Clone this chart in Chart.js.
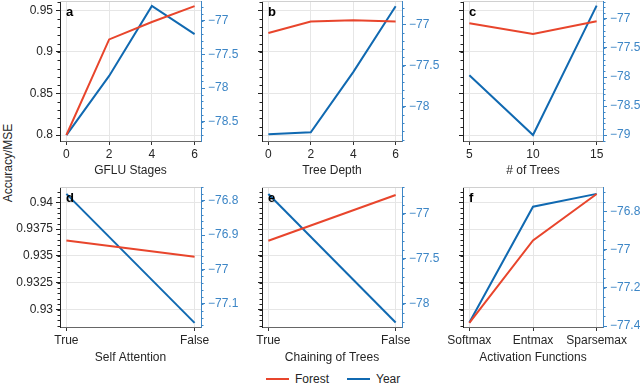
<!DOCTYPE html>
<html>
<head>
<meta charset="utf-8">
<script src="https://cdn.jsdelivr.net/npm/chart.js@4/dist/chart.umd.min.js"></script>
<style>
  body { margin: 0; width: 640px; height: 384px; position: relative; background: #fff; overflow: hidden;
         font-family: "Liberation Sans", Arial, sans-serif; color: #262626; }
  canvas { position: absolute; left: 0; top: 0; }
  #ylab { position: absolute; left: 8px; top: 163px; transform: translate(-50%, -50%) rotate(-90deg);
          font-size: 12px; white-space: nowrap; }
  #legend { position: absolute; left: 266px; top: 372px; display: flex; align-items: center; font-size: 12px; }
  #legend .line { width: 23px; height: 2px; margin-right: 6px; }
  #legend .item { display: flex; align-items: center; margin-right: 18px; }
</style>
</head>
<body>
<div id="ylab">Accuracy/MSE</div>
<div id="legend">
  <div class="item"><div class="line" style="background:#e8452c"></div>Forest</div>
  <div class="item"><div class="line" style="background:#1069b1"></div>Year</div>
</div>
<script>
// --- DATA --- //
const gfluStages = [0, 2, 4, 6];
const gfluForest = [0.800, 0.915, 0.936, 0.955];
const gfluYear = [-78.70, -77.82, -76.78, -77.20];

const treeDepth = [0, 2, 4, 6];
const depthForest = [0.9228, 0.9364, 0.9380, 0.9364];
const depthYear = [-78.335, -78.31, -77.58, -76.78];

const numTrees = [5, 10, 15];
const treesForest = [0.9344, 0.9216, 0.9368];
const treesYear = [-77.97, -79.00, -76.77];

const boolCats = ["True", "False"];
const selfAttForest = [0.93645, 0.93492];
const selfAttYear = [-76.78, -77.155];

const chainForest = [0.93641, 0.94068];
const chainYear = [-76.777, -78.21];

const activationCats = ["Softmax", "Entmax", "Sparsemax"];
const actForest = [0.92875, 0.93645, 0.94078];
const actYear = [-77.382, -76.776, -76.709];

// --- WARNA --- //
const RED = "#e8452c";
const BLUE = "#1069b1";
const BLUE_AXIS = "#3d86c6";
const GRID = "#e6e6e6";

Chart.defaults.font.family = '"Liberation Sans", Arial, sans-serif';
Chart.defaults.font.size = 12;
Chart.defaults.color = "#262626";

const CW = 720, CH = 384; // canvas lebih lebar supaya label kanan tidak terpotong

const fmt = v => String(+v.toFixed(4)).replace("-", "\u2212");

// minor ticks + huruf panel + garis atas
const panelDeco = {
  id: "panelDeco",
  afterDraw(chart, args, opts) {
    const ctx = chart.ctx;
    const area = chart.chartArea;
    ctx.save();
    ctx.strokeStyle = "#d0d0d0";
    ctx.lineWidth = 1;
    ctx.beginPath();
    ctx.moveTo(area.left, Math.round(area.top) + 0.5);
    ctx.lineTo(area.right, Math.round(area.top) + 0.5);
    ctx.stroke();

    for (const [id, step] of Object.entries(opts.minor || {})) {
      const s = chart.scales[id];
      ctx.strokeStyle = s.options.border.color;
      ctx.beginPath();
      const left = s.options.position === "left";
      const x0 = left ? s.right : s.left;
      for (let k = Math.ceil(s.min / step - 1e-6); k * step <= s.max + 1e-9; k++) {
        const y = Math.round(s.getPixelForValue(k * step)) + 0.5;
        ctx.moveTo(x0, y);
        ctx.lineTo(x0 + (left ? -2.5 : 2.5), y);
      }
      ctx.stroke();
    }

    ctx.fillStyle = "#000";
    ctx.font = 'bold 13px "Liberation Sans", Arial, sans-serif';
    ctx.textBaseline = "middle";
    ctx.fillText(opts.letter, area.left + 6, area.top + 11);
    ctx.restore();
  }
};

function makePanel(p) {
  const cv = document.createElement("canvas");
  cv.width = CW;
  cv.height = CH;
  document.body.appendChild(cv);

  const wl = 50, wr = 50;
  const fixW = w => s => { s.width = w; s.paddingTop = s.paddingBottom = s.paddingLeft = s.paddingRight = 0; };
  const fixH = h => s => { s.height = h; s.paddingTop = s.paddingBottom = s.paddingLeft = s.paddingRight = 0; };

  new Chart(cv, {
    type: "line",
    data: {
      datasets: [
        { label: "Forest", data: p.x.map((v, i) => ({ x: v, y: p.forest[i] })), yAxisID: "y",
          borderColor: RED, borderWidth: 2, pointRadius: 0, tension: 0 },
        { label: "Year", data: p.x.map((v, i) => ({ x: v, y: p.year[i] })), yAxisID: "y1",
          borderColor: BLUE, borderWidth: 2, pointRadius: 0, tension: 0 }
      ]
    },
    options: {
      responsive: false,
      animation: false,
      events: [],
      layout: { padding: { left: p.l - wl, right: CW - p.r - wr, top: p.t, bottom: CH - p.b - p.hx } },
      plugins: {
        legend: { display: false },
        tooltip: { enabled: false },
        panelDeco: { letter: p.letter, minor: { y: p.yMinor, y1: p.y1Minor } }
      },
      scales: {
        x: {
          type: "linear", min: p.xMin, max: p.xMax,
          afterFit: fixH(p.hx),
          border: { color: "#666" },
          grid: { color: GRID, tickColor: "#333", tickLength: 4 },
          ticks: { stepSize: p.xStep, includeBounds: false, padding: 2, maxRotation: 0,
                   callback: v => (p.cats ? p.cats[v] : v) },
          title: { display: true, text: p.xTitle, padding: { top: 2, bottom: 4 } }
        },
        y: {
          position: "left", min: p.yMin, max: p.yMax,
          afterFit: fixW(wl),
          border: { color: "#222" },
          grid: { color: GRID, tickColor: "#222", tickLength: 4 },
          ticks: { stepSize: p.yStep, includeBounds: false, padding: 3,
                   callback: v => (p.yLabels ? fmt(v) : "") }
        },
        y1: {
          position: "right", min: p.y1Min, max: p.y1Max,
          afterFit: fixW(wr),
          border: { color: BLUE_AXIS },
          grid: { drawOnChartArea: false, tickColor: BLUE_AXIS, tickLength: 4 },
          ticks: { stepSize: p.y1Step, includeBounds: false, padding: 3, color: BLUE_AXIS, callback: fmt }
        }
      }
    },
    plugins: [panelDeco]
  });
}

const topRow = { t: 1, b: 141, hx: 41, yMin: 0.7928, yMax: 0.9612, yStep: 0.05, yMinor: 0.01 };
const botRow = { t: 187, b: 327, hx: 42, yMin: 0.92837, yMax: 0.94143, yStep: 0.0025, yMinor: 0.0005 };

makePanel({ ...topRow, letter: "a", l: 60, r: 201, x: gfluStages, forest: gfluForest, year: gfluYear,
  xMin: -0.3, xMax: 6.3, xStep: 2, xTitle: "GFLU Stages", yLabels: true,
  y1Min: -78.787, y1Max: -76.707, y1Step: 0.5, y1Minor: 0.1 });
makePanel({ ...topRow, letter: "b", l: 262, r: 402, x: treeDepth, forest: depthForest, year: depthYear,
  xMin: -0.3, xMax: 6.3, xStep: 2, xTitle: "Tree Depth", yLabels: false,
  y1Min: -78.416, y1Max: -76.717, y1Step: 0.5, y1Minor: 0.1 });
makePanel({ ...topRow, letter: "c", l: 463, r: 603, x: numTrees, forest: treesForest, year: treesYear,
  xMin: 4.5, xMax: 15.5, xStep: 5, xTitle: "# of Trees", yLabels: false,
  y1Min: -79.103, y1Max: -76.69, y1Step: 0.5, y1Minor: 0.1 });

makePanel({ ...botRow, letter: "d", l: 60, r: 201, x: [0, 1], cats: boolCats, forest: selfAttForest, year: selfAttYear,
  xMin: -0.05, xMax: 1.05, xStep: 1, xTitle: "Self Attention", yLabels: true,
  y1Min: -77.167, y1Max: -76.76, y1Step: 0.1, y1Minor: 0.02 });
makePanel({ ...botRow, letter: "e", l: 262, r: 402, x: [0, 1], cats: boolCats, forest: chainForest, year: chainYear,
  xMin: -0.05, xMax: 1.05, xStep: 1, xTitle: "Chaining of Trees", yLabels: false,
  y1Min: -78.26, y1Max: -76.699, y1Step: 0.5, y1Minor: 0.1 });
makePanel({ ...botRow, letter: "f", l: 463, r: 603, x: [0, 1, 2], cats: activationCats, forest: actForest, year: actYear,
  xMin: -0.1, xMax: 2.1, xStep: 1, xTitle: "Activation Functions", yLabels: false,
  y1Min: -77.405, y1Max: -76.673, y1Step: 0.2, y1Minor: 0.05 });
</script>
</body>
</html>
